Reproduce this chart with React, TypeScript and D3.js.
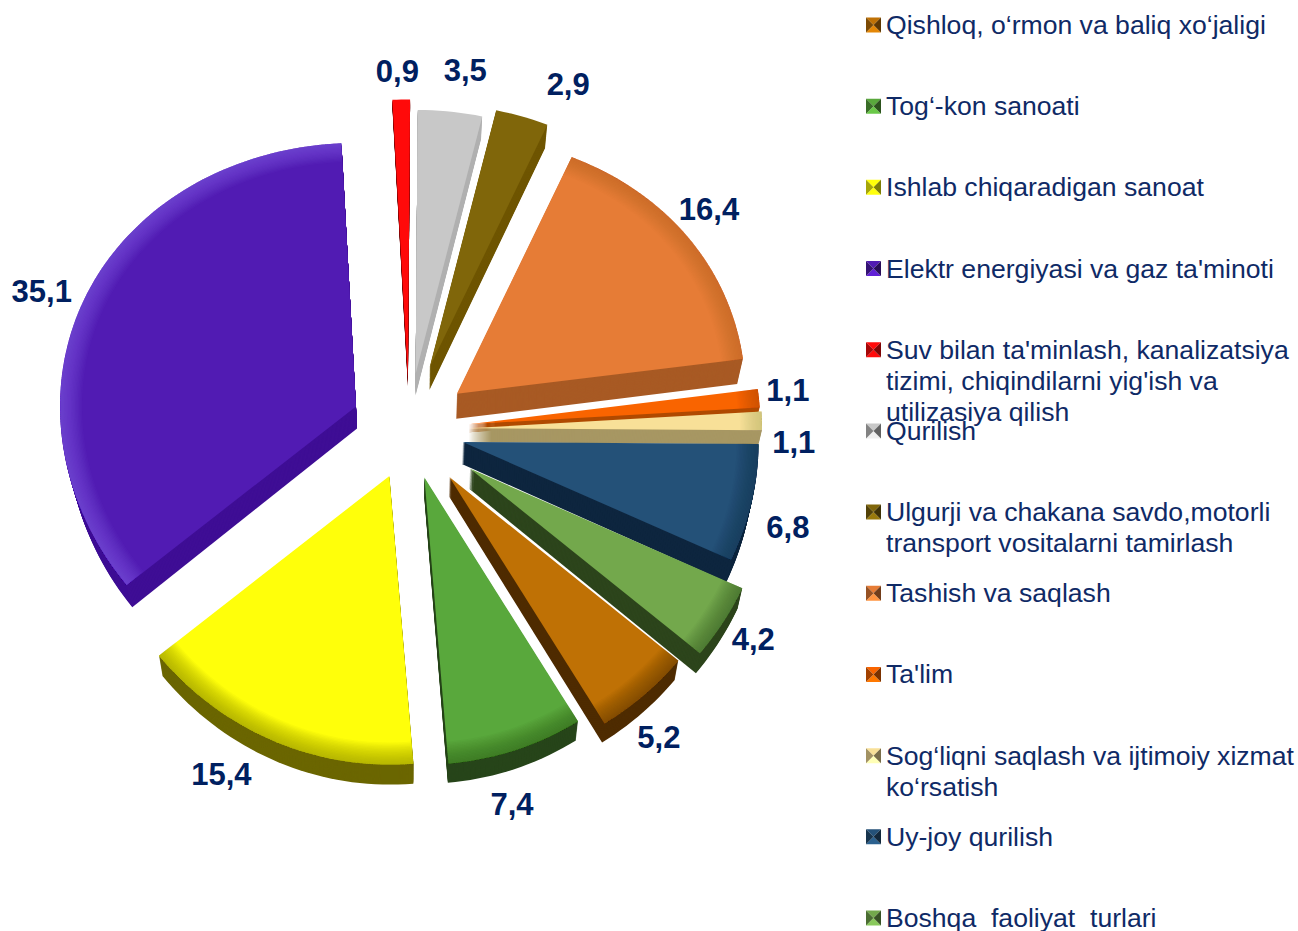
import React from "react";
import * as d3 from "d3";

// ---- data ----
const categories = [
  ["Qishloq, o‘rmon va baliq xo‘jaligi"],
  ["Tog‘-kon sanoati"],
  ["Ishlab chiqaradigan sanoat"],
  ["Elektr energiyasi va gaz ta'minoti"],
  ["Suv bilan ta'minlash, kanalizatsiya", "tizimi, chiqindilarni yig'ish va", "utilizasiya qilish"],
  ["Qurilish"],
  ["Ulgurji va chakana savdo,motorli", "transport vositalarni tamirlash"],
  ["Tashish va saqlash"],
  ["Ta'lim"],
  ["Sog‘liqni saqlash va ijtimoiy xizmat", "ko‘rsatish"],
  ["Uy-joy qurilish"],
  ["Boshqa  faoliyat  turlari"],
];
const values = [5.2, 7.4, 15.4, 35.1, 0.9, 3.5, 2.9, 16.4, 1.1, 1.1, 6.8, 4.2];
const valueLabels = ["5,2", "7,4", "15,4", "35,1", "0,9", "3,5", "2,9", "16,4", "1,1", "1,1", "6,8", "4,2"];

// ---- styles ----
const topColors = ["#bf7105", "#59a83c", "#ffff0a", "#511bb3", "#ff0a0a", "#c8c8c8", "#80660a", "#e67c36", "#f96400", "#f8e098", "#245178", "#73a84c"];
const wallColors = ["#4f2c00", "#27451a", "#6b6600", "#3f0e95", "#700000", "#b0b0b0", "#6f5600", "#a85a24", "#b04a00", "#a79763", "#0e263f", "#2d451c"];
const rimColors = ["#5f3500", "#2c5a1c", "#8a8500", "#8a5cf5", "#ff0a0a", "#c8c8c8", "#80660a", "#a85a24", "#a83c00", "#b8a868", "#0e2a48", "#3a5a20"];
const rimStrength = [0.05, 0.045, 0.05, 0.05, 0, 0, 0, 0.025, 0.03, 0.04, 0.04, 0.05];
const explode = [62, 50, 50, 58, 52, 57, 66, 60, 60, 60, 55, 72];
const radiusScale = [1.01, 1, 1.005, 1, 1.06, 1, 1, 0.975, 0.985, 0.99, 1, 1.015];
const depths = [19, 19, 20, 22, 8, 22, 23, 25, 8, 14, 22, 20];
const wallInsets = [0.015, 0.015, 0.015, 0.02, 0.015, 0.015, 0.015, 0.015, 0.015, 0.015, 0.015, 0.015];
const labelRadius = [398, 389, 390, 389, 359, 365, 383, 376, 385, 389, 395, 406];
const labelShift = [1, 2, 5, -3, 0, 2.8, 7, 1, -0.5, 3.3, 1.6, -1.5];
const drawOrder = [4, 5, 6, 3, 7, 8, 9, 10, 11, 0, 1, 2];

// ---- layout ----
const W = 1298, H = 931;
const labelCx = 405;
const cx = 409, cy = 430, R = 296;
const bevel = 22, bevelSteps = 16;
const yA = 0.93, yB = 0.04;
const labelColor = "#002060";
const legendColor = "#0f2a66";
const legendY = d3.scaleLinear().domain([0, 11]).range([25, 918]);
const rad = (deg: number) => (deg * Math.PI) / 180;

const arcs = d3.pie<number>().sort(null).startAngle(rad(130)).endAngle(rad(490)).value((d) => d)(values);

const line = d3.line<[number, number]>().x((d) => d[0]).y((d) => d[1]);

function project(ax: number, ay: number, r: number, a: number): [number, number] {
  const lx = r * Math.sin(a);
  const ly = -r * Math.cos(a);
  return [ax + lx, ay + ly * (yA + (yB * ly) / R)];
}

function sector(ax: number, ay: number, r0: number, r1: number, a0: number, a1: number) {
  const n = Math.max(4, Math.ceil((a1 - a0) / rad(1.5)));
  const outer = d3.range(n + 1).map((i) => project(ax, ay, r1, a0 + ((a1 - a0) * i) / n));
  const inner = d3.range(n + 1).map((i) => project(ax, ay, r0, a1 - ((a1 - a0) * i) / n));
  return line([...outer, ...inner]) + "Z";
}

function Slice({ i }: { i: number }) {
  const { startAngle: a0, endAngle: a1 } = arcs[i];
  const mid = (a0 + a1) / 2;
  const ax = cx + explode[i] * Math.sin(mid);
  const ay = cy - explode[i] * Math.cos(mid);
  const r = R * radiusScale[i];
  const top = sector(ax, ay, 0, r, a0, a1);
  return (
    <g>
      {d3.range(depths[i], 0, -1).map((d) => (
        <path
          key={d}
          d={top}
          transform={`translate(${cx},${d}) scale(${1 - (wallInsets[i] / 22) * d},1) translate(${-cx},0)`}
          fill={wallColors[i]}
        />
      ))}
      <path d={top} fill={topColors[i]} />
      {rimStrength[i] > 0 &&
        d3.range(bevelSteps).map((k) => (
          <path
            key={k}
            d={sector(ax, ay, r - bevel * (1 - k / bevelSteps), r, a0, a1)}
            fill={rimColors[i]}
            opacity={rimStrength[i]}
          />
        ))}
    </g>
  );
}

function Marker({ y, color }: { y: number; color: string }) {
  const s = 15, x = 866, y0 = y - 7.5;
  const c = d3.color(color)!;
  const mx = x + s / 2, my = y0 + s / 2;
  return (
    <g>
      <path d={`M${x},${y0}L${x + s},${y0}L${mx},${my}Z`} fill={c.formatHex()} />
      <path d={`M${x},${y0 + s}L${x + s},${y0 + s}L${mx},${my}Z`} fill={c.brighter(0.5).formatHex()} />
      <path d={`M${x},${y0}L${x},${y0 + s}L${mx},${my}Z`} fill={c.darker(1.2).formatHex()} />
      <path d={`M${x + s},${y0}L${x + s},${y0 + s}L${mx},${my}Z`} fill={c.darker(2).formatHex()} />
    </g>
  );
}

export default function App() {
  return (
    <svg
      width={W}
      height={H}
      viewBox={`0 0 ${W} ${H}`}
      style={{ position: "absolute", left: 0, top: 0, display: "block", background: "#fff" }}
    >
      {drawOrder.map((i) => (
        <Slice key={i} i={i} />
      ))}
      {arcs.map((d, i) => {
        const a = (d.startAngle + d.endAngle) / 2 + rad(labelShift[i]);
        return (
          <text
            key={i}
            x={labelCx + labelRadius[i] * Math.sin(a)}
            y={cy - labelRadius[i] * Math.cos(a)}
            dy="0.36em"
            textAnchor="middle"
            fontFamily="'Liberation Sans', Arial, sans-serif"
            fontWeight="bold"
            fontSize={31}
            fill={labelColor}
          >
            {valueLabels[i]}
          </text>
        );
      })}
      {categories.map((lines, i) => (
        <g key={i}>
          <Marker y={legendY(i)} color={topColors[i]} />
          {lines.map((t, j) => (
            <text
              key={j}
              x={886}
              y={legendY(i) + j * 31}
              dy="0.34em"
              xmlSpace="preserve"
              fontFamily="'Liberation Sans', Arial, sans-serif"
              fontSize={26.6}
              fill={legendColor}
            >
              {t}
            </text>
          ))}
        </g>
      ))}
    </svg>
  );
}
